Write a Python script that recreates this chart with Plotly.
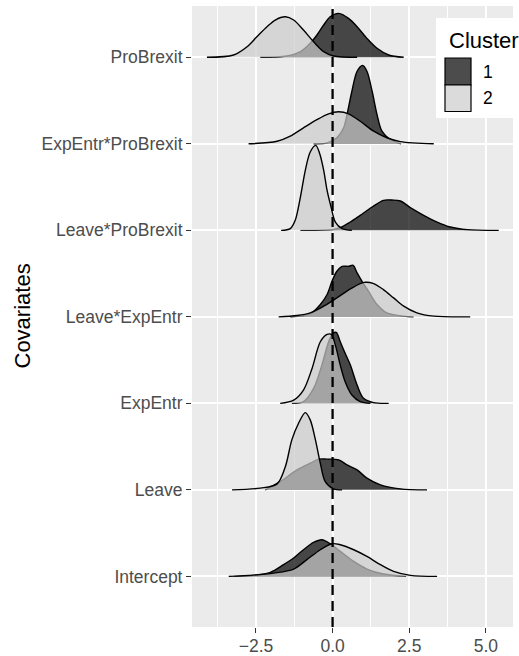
import plotly.graph_objects as go

# ---------------- data ----------------
categories = ["Intercept", "Leave", "ExpEntr", "Leave*ExpEntr",
              "Leave*ProBrexit", "ExpEntr*ProBrexit", "ProBrexit"]
cluster_names = ["1", "2"]
x_tick_vals = [-2.5, 0.0, 2.5, 5.0]
x_tick_text = ["\u22122.5", "0.0", "2.5", "5.0"]
x_minor_vals = [-3.75, -1.25, 1.25, 3.75]
ref_line_x = 0.0

# density curves: (x, height in row units) for cluster 1 and cluster 2
probrexit_c1 = [(-2.36, 0), (-1.49, 0.015), (-1.05, 0.065), (-0.73, 0.162), (-0.51, 0.258),
                (-0.29, 0.373), (-0.08, 0.469), (0.20, 0.508), (0.52, 0.45), (0.80, 0.354),
                (1.12, 0.219), (1.45, 0.104), (1.83, 0.027), (2.32, 0)]
probrexit_c2 = [(-4.10, 0), (-3.23, 0.027), (-2.79, 0.122), (-2.47, 0.238), (-2.14, 0.354),
                (-1.87, 0.431), (-1.54, 0.468), (-1.27, 0.431), (-0.95, 0.315), (-0.62, 0.18),
                (-0.29, 0.065), (0.03, 0.015), (0.80, 0)]
expprob_c1 = [(-0.62, 0), (-0.18, 0.01), (0.14, 0.07), (0.36, 0.185), (0.47, 0.338),
              (0.63, 0.608), (0.80, 0.839), (0.98, 0.905), (1.12, 0.839), (1.29, 0.608),
              (1.45, 0.338), (1.61, 0.146), (1.88, 0.05), (2.23, 0)]
expprob_c2 = [(-2.74, 0), (-1.81, 0.03), (-1.38, 0.088), (-0.95, 0.185), (-0.51, 0.28),
              (-0.13, 0.347), (0.20, 0.37), (0.52, 0.347), (0.90, 0.261), (1.34, 0.146),
              (1.77, 0.07), (2.21, 0.025), (3.30, 0)]
leaveprob_c1 = [(-1.05, 0), (-0.02, 0.008), (0.25, 0.03), (0.58, 0.096), (0.90, 0.173),
                (1.29, 0.27), (1.66, 0.347), (1.94, 0.35), (2.21, 0.339), (2.59, 0.25),
                (2.97, 0.173), (3.41, 0.096), (3.84, 0.039), (4.39, 0.008), (5.42, 0)]
leaveprob_c2 = [(-1.68, 0), (-1.38, 0.02), (-1.22, 0.116), (-1.05, 0.385), (-0.89, 0.693),
                (-0.73, 0.905), (-0.55, 0.982), (-0.42, 0.886), (-0.29, 0.693), (-0.18, 0.462),
                (-0.05, 0.27), (0.09, 0.096), (0.31, 0.02), (0.63, 0)]
leaveexp_c1 = [(-1.38, 0), (-0.73, 0.035), (-0.40, 0.142), (-0.18, 0.258), (-0.02, 0.411),
               (0.14, 0.527), (0.31, 0.584), (0.52, 0.584), (0.67, 0.596), (0.80, 0.508),
               (0.96, 0.411), (1.17, 0.296), (1.45, 0.142), (1.77, 0.046), (2.32, 0.008),
               (2.64, 0)]
leaveexp_c2 = [(-1.76, 0), (-1.16, 0.015), (-0.73, 0.046), (-0.29, 0.123), (0.14, 0.219),
               (0.58, 0.323), (0.90, 0.385), (1.07, 0.40), (1.34, 0.385), (1.66, 0.315),
               (1.99, 0.219), (2.32, 0.123), (2.75, 0.046), (3.30, 0.008), (4.49, 0)]
expentr_c1 = [(-1.33, 0), (-0.95, 0.02), (-0.62, 0.173), (-0.35, 0.442), (-0.13, 0.712),
              (0.01, 0.809), (0.12, 0.82), (0.25, 0.712), (0.41, 0.578), (0.58, 0.442),
              (0.80, 0.211), (1.01, 0.058), (1.34, 0.008), (1.83, 0)]
expentr_c2 = [(-1.71, 0), (-1.27, 0.038), (-0.95, 0.154), (-0.67, 0.404), (-0.40, 0.712),
              (-0.18, 0.797), (-0.04, 0.797), (0.09, 0.673), (0.25, 0.442), (0.41, 0.25),
              (0.63, 0.096), (0.90, 0.02), (1.23, 0)]
leave_c1 = [(-2.20, 0), (-1.71, 0.096), (-1.16, 0.231), (-0.73, 0.308), (-0.46, 0.355),
            (-0.18, 0.355), (0.20, 0.347), (0.47, 0.289), (0.80, 0.231), (1.12, 0.135),
            (1.56, 0.058), (2.21, 0.012), (3.08, 0)]
leave_c2 = [(-3.28, 0), (-2.36, 0.02), (-1.81, 0.069), (-1.54, 0.27), (-1.33, 0.578),
            (-1.11, 0.77), (-0.89, 0.893), (-0.73, 0.809), (-0.56, 0.578), (-0.40, 0.308),
            (-0.24, 0.096), (0.03, 0.012), (0.31, 0)]
intercept_c1 = [(-3.20, 0), (-2.58, 0.012), (-2.03, 0.046), (-1.60, 0.135), (-1.27, 0.212),
                (-0.95, 0.308), (-0.62, 0.393), (-0.35, 0.424), (-0.08, 0.378), (0.25, 0.289),
                (0.69, 0.173), (1.12, 0.085), (1.66, 0.027), (2.40, 0)]
intercept_c2 = [(-3.39, 0), (-2.58, 0.015), (-1.92, 0.038), (-1.27, 0.085), (-0.84, 0.193),
                (-0.40, 0.308), (-0.02, 0.378), (0.25, 0.366), (0.69, 0.308), (1.12, 0.231),
                (1.56, 0.135), (1.99, 0.058), (2.54, 0.012), (3.41, 0)]

curves = {
    "ProBrexit": (probrexit_c1, probrexit_c2),
    "ExpEntr*ProBrexit": (expprob_c1, expprob_c2),
    "Leave*ProBrexit": (leaveprob_c1, leaveprob_c2),
    "Leave*ExpEntr": (leaveexp_c1, leaveexp_c2),
    "ExpEntr": (expentr_c1, expentr_c2),
    "Leave": (leave_c1, leave_c2),
    "Intercept": (intercept_c1, intercept_c2),
}

# ---------------- styling ----------------
FONT = "Liberation Sans, Arial, sans-serif"
fills = ["rgba(0,0,0,0.7)", "rgba(204,204,204,0.7)"]
legend_fills = ["#4c4c4c", "#dbdbdb"]

fig = go.Figure()

# draw from top row to bottom row; within a row cluster 1 then 2
for cat in reversed(categories):
    base = categories.index(cat) + 1
    for k, pts in enumerate(curves[cat]):
        xs = [p[0] for p in pts]
        ys = [base + p[1] for p in pts]
        fig.add_trace(go.Scatter(
            x=xs, y=ys, mode="lines", fill="toself", fillcolor=fills[k],
            line=dict(width=0, color="rgba(0,0,0,0)", shape="spline", smoothing=0.9),
            hoverinfo="skip", showlegend=False, name=cluster_names[k]))
        fig.add_trace(go.Scatter(
            x=xs, y=ys, mode="lines",
            line=dict(width=1.4, color="black", shape="spline", smoothing=0.9),
            hoverinfo="skip", showlegend=False, name=cluster_names[k]))

# panel geometry in pixels (for paper-coordinate placements)
W, H = 519, 656
ML, MR, MT, MB = 192, 6, 6, 29
PW, PH = W - ML - MR, H - MT - MB


def px(xpix):
    return (xpix - ML) / PW


def py(ypix):
    return 1 - (ypix - MT) / PH


shapes = [
    dict(type="line", xref="x", yref="paper", x0=ref_line_x, x1=ref_line_x, y0=0, y1=1,
         line=dict(color="black", width=2.3, dash="10px,6px"), layer="above"),
    # legend box
    dict(type="rect", xref="paper", yref="paper", x0=px(436), x1=px(530), y0=py(118), y1=py(18),
         fillcolor="white", line=dict(width=0), layer="above"),
    dict(type="rect", xref="paper", yref="paper", x0=px(445), x1=px(471), y0=py(85), y1=py(58),
         fillcolor=legend_fills[0], line=dict(color="black", width=1.2), layer="above"),
    dict(type="rect", xref="paper", yref="paper", x0=px(445), x1=px(471), y0=py(111.5), y1=py(85),
         fillcolor=legend_fills[1], line=dict(color="black", width=1.2), layer="above"),
]

annotations = [
    dict(text="Covariates", xref="paper", yref="paper", x=px(22), y=0.5, textangle=-90,
         showarrow=False, xanchor="center", yanchor="middle",
         font=dict(family=FONT, size=22, color="black")),
    dict(text="Cluster", xref="paper", yref="paper", x=px(447), y=py(40), showarrow=False,
         xanchor="left", yanchor="middle", font=dict(family=FONT, size=22, color="black")),
    dict(text=cluster_names[0], xref="paper", yref="paper", x=px(481), y=py(71.5), showarrow=False,
         xanchor="left", yanchor="middle", font=dict(family=FONT, size=17.5, color="black")),
    dict(text=cluster_names[1], xref="paper", yref="paper", x=px(481), y=py(98), showarrow=False,
         xanchor="left", yanchor="middle", font=dict(family=FONT, size=17.5, color="black")),
]

fig.update_layout(
    width=W, height=H,
    margin=dict(l=ML, r=MR, t=MT, b=MB, pad=0, autoexpand=False),
    paper_bgcolor="white", plot_bgcolor="#ebebeb",
    showlegend=False,
    shapes=shapes, annotations=annotations,
    font=dict(family=FONT),
    xaxis=dict(range=[-4.587, 5.886], tickvals=x_tick_vals, ticktext=x_tick_text,
               showgrid=True, gridcolor="white", gridwidth=1.8, zeroline=False,
               ticks="outside", ticklen=5, tickcolor="#333333", tickwidth=1.1,
               ticklabelstandoff=-2,
               tickfont=dict(family=FONT, size=17.5, color="#4d4d4d"),
               minor=dict(tickvals=x_minor_vals, showgrid=True, gridcolor="white",
                          gridwidth=0.9, ticks=""),
               showline=False, fixedrange=True, automargin=False),
    yaxis=dict(range=[0.415, 7.593], tickvals=list(range(1, len(categories) + 1)),
               ticktext=categories, showgrid=True, gridcolor="white", gridwidth=1.8,
               zeroline=False, ticks="outside", ticklen=5, tickcolor="#333333", tickwidth=1.1,
               tickfont=dict(family=FONT, size=17.5, color="#4d4d4d"),
               showline=False, fixedrange=True, automargin=False),
)

fig.write_html("out.html")
